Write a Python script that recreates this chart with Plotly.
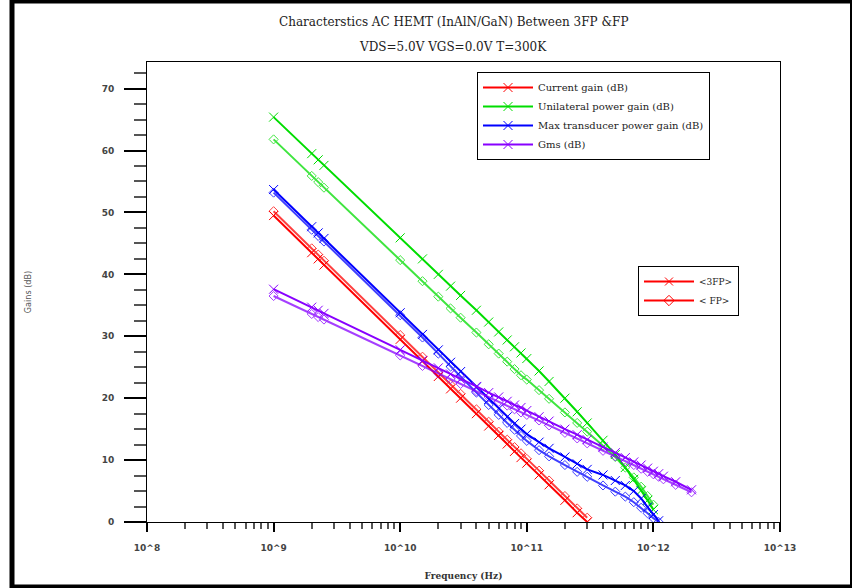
import plotly.graph_objects as go

# ---------------- data ----------------
FREQ = [1e9, 2e9, 2.25e9, 2.5e9, 1e10, 1.5e10, 2e10, 2.5e10, 3e10, 4e10,
        5e10, 6e10, 7e10, 8e10, 9e10, 1e11, 1.25e11, 1.5e11, 2e11, 2.5e11,
        3e11, 4e11, 5e11, 6e11, 7e11, 8e11, 9e11, 1e12, 1.1e12, 1.2e12,
        1.5e12, 2e12]

current_gain_3fp = [49.5, 43.5, 42.5, 41.5, 29.5, 26.0, 23.5, 21.5, 20.0, 17.5,
                    15.5, 14.0, 12.6, 11.4, 10.4, 9.5, 7.6, 6.0, 3.5, 1.5, 0.0]
current_gain_fp = [50.2, 44.2, 43.2, 42.2, 30.2, 26.7, 24.2, 22.2, 20.7, 18.2,
                   16.2, 14.6, 13.3, 12.1, 11.1, 10.2, 8.3, 6.7, 4.2, 2.2, 0.7]

unilateral_3fp = [65.4, 59.5, 58.5, 57.6, 45.9, 42.5, 40.0, 38.1, 36.6, 34.2,
                  32.3, 30.7, 29.4, 28.3, 27.3, 26.4, 24.4, 22.7, 20.0, 17.8,
                  16.0, 13.2, 10.9, 8.8, 6.9, 5.1, 3.5, 2.0]
unilateral_fp = [61.8, 55.9, 54.9, 54.0, 42.3, 38.9, 36.4, 34.5, 33.0, 30.6,
                 28.7, 27.2, 25.9, 24.7, 23.7, 23.0, 21.3, 19.9, 17.7, 16.0,
                 14.6, 12.3, 10.5, 8.8, 7.2, 5.7, 4.2, 2.8]

max_transducer_3fp = [53.7, 47.7, 46.7, 45.8, 33.8, 30.3, 27.8, 25.8, 24.3, 21.8,
                      19.8, 18.3, 17.0, 15.9, 15.0, 14.2, 12.9, 11.9, 10.5, 9.4,
                      8.5, 7.6, 6.7, 5.9, 5.0, 3.8, 2.4, 1.2, 0.2]
max_transducer_fp = [53.2, 47.2, 46.2, 45.3, 33.4, 29.8, 27.2, 25.1, 23.5, 20.9,
                     18.9, 17.3, 16.0, 14.9, 13.9, 13.1, 11.6, 10.6, 9.2, 8.1,
                     7.3, 5.9, 4.9, 4.1, 3.2, 2.3, 1.4, 0.6, 0.0]

gms_3fp = [37.6, 34.7, 34.2, 33.7, 27.8, 26.1, 24.9, 23.9, 23.1, 21.9,
           20.9, 20.2, 19.5, 18.9, 18.5, 18.0, 17.0, 16.3, 15.0, 14.1,
           13.3, 12.1, 11.2, 10.4, 9.7, 9.2, 8.7, 8.2, 7.8, 7.4, 6.5, 5.2]
gms_fp = [36.5, 33.6, 33.1, 32.7, 26.9, 25.2, 24.0, 23.1, 22.3, 21.1,
          20.2, 19.4, 18.8, 18.2, 17.7, 17.3, 16.4, 15.6, 14.4, 13.5,
          12.7, 11.5, 10.6, 9.8, 9.2, 8.6, 8.1, 7.7, 7.3, 6.9, 6.0, 4.8]

SERIES_NAMES = ["Current gain (dB)", "Unilateral power gain (dB)",
                "Max transducer power gain (dB)", "Gms (dB)"]
SERIES_COLORS = ["#ff0000", "#00dd00", "#0000ff", "#8800ff"]
VARIANT_NAMES = ["<3FP>", "< FP>"]

X_TICK_VALS = [1e8, 1e9, 1e10, 1e11, 1e12, 1e13]
X_TICK_TEXT = ["10^8", "10^9", "10^10", "10^11", "10^12", "10^13"]
X_MINOR_VALS = [m * 10 ** e for e in range(8, 13) for m in range(2, 10)]

# ---------------- figure ----------------
fig = go.Figure()

pairs = [(current_gain_3fp, current_gain_fp), (unilateral_3fp, unilateral_fp),
         (max_transducer_3fp, max_transducer_fp), (gms_3fp, gms_fp)]

for (v3, vf), name, col in zip(pairs, SERIES_NAMES, SERIES_COLORS):
    fig.add_trace(go.Scatter(
        x=FREQ[:len(vf)], y=vf, mode="lines+markers", name=name + " FP",
        line=dict(color=col, width=2),
        marker=dict(symbol="diamond-open", size=7, color=col, line=dict(width=1)),
        opacity=0.75, showlegend=False))
    fig.add_trace(go.Scatter(
        x=FREQ[:len(v3)], y=v3, mode="lines+markers", name=name,
        line=dict(color=col, width=2),
        marker=dict(symbol="x-thin", size=9, color=col, line=dict(width=1, color=col)),
        showlegend=False))

# legend entries (no data)
for name, col in zip(SERIES_NAMES, SERIES_COLORS):
    fig.add_trace(go.Scatter(
        x=[None], y=[None], mode="lines+markers", name=name, legend="legend",
        line=dict(color=col, width=2),
        marker=dict(symbol="x-thin", size=9, color=col, line=dict(width=1, color=col))))
for vname, sym in zip(VARIANT_NAMES, ["x-thin", "diamond-open"]):
    fig.add_trace(go.Scatter(
        x=[None], y=[None], mode="lines+markers", name=vname, legend="legend2",
        line=dict(color=SERIES_COLORS[0], width=2),
        marker=dict(symbol=sym, size=8, color=SERIES_COLORS[0],
                    line=dict(width=1, color=SERIES_COLORS[0]))))

# plot area: x 147..780 px, y 62..522 px
def px(xp):
    return (xp - 147) / 633.0

def py(yp):
    return (522 - yp) / 460.0

tick_font = dict(family="DejaVu Sans", size=9, color="#444", weight="bold")

fig.update_layout(
    width=852, height=588,
    margin=dict(l=147, r=72, t=62, b=66, autoexpand=False),
    paper_bgcolor="white", plot_bgcolor="white",
    showlegend=True,
    xaxis=dict(
        type="log", range=[8, 13], automargin=False,
        tickmode="array", tickvals=X_TICK_VALS, ticktext=X_TICK_TEXT,
        ticks="outside", ticklen=9, tickwidth=2, tickcolor="black",
        ticklabelstandoff=8,
        minor=dict(tickmode="array", tickvals=X_MINOR_VALS, ticks="outside",
                   ticklen=6, tickwidth=1.5, tickcolor="#555"),
        showline=True, linecolor="black", linewidth=1, mirror=True,
        showgrid=False, zeroline=False, tickfont=tick_font,
        title=dict(text="Frequency (Hz)", standoff=20,
                   font=dict(family="DejaVu Serif", size=9, color="#333", weight="bold")),
    ),
    yaxis=dict(
        range=[0, 74.3], tick0=0, dtick=10, automargin=False,
        ticks="outside", ticklen=22, tickwidth=2, tickcolor="black",
        ticklabelstandoff=8,
        minor=dict(dtick=2.5, tick0=0, ticks="outside", ticklen=12,
                   tickwidth=1.5, tickcolor="#555"),
        showline=True, linecolor="black", linewidth=1, mirror=True,
        showgrid=False, zeroline=False, tickfont=tick_font,
        title=dict(text="Gains (dB)", standoff=68,
                   font=dict(family="Liberation Sans Narrow, DejaVu Sans Condensed, sans-serif",
                             size=9, color="#555")),
    ),
    legend=dict(
        x=px(477), y=py(72), xanchor="left", yanchor="top",
        bordercolor="black", borderwidth=1, bgcolor="white",
        font=dict(family="DejaVu Serif", size=10, color="#222"),
        itemwidth=50, tracegroupgap=0,
        entrywidth=280, entrywidthmode="pixels",
    ),
    legend2=dict(
        x=px(638), y=py(266), xanchor="left", yanchor="top",
        bordercolor="black", borderwidth=1, bgcolor="white",
        font=dict(family="DejaVu Serif", size=9, color="#222"),
        itemwidth=50, tracegroupgap=0,
        entrywidth=120, entrywidthmode="pixels",
    ),
    annotations=[
        dict(text="Characterstics AC HEMT (InAlN/GaN) Between 3FP &FP",
             x=px(453), y=py(22), xref="paper", yref="paper", showarrow=False,
             xanchor="center", yanchor="middle",
             font=dict(family="DejaVu Serif", size=12, color="#222")),
        dict(text="VDS=5.0V VGS=0.0V T=300K",
             x=px(453), y=py(47), xref="paper", yref="paper", showarrow=False,
             xanchor="center", yanchor="middle",
             font=dict(family="DejaVu Serif", size=12, color="#222")),
    ],
    shapes=[
        dict(type="line", xref="paper", yref="paper", x0=px(12), x1=px(12),
             y0=py(0), y1=py(588), line=dict(color="black", width=5)),
        dict(type="line", xref="paper", yref="paper", x0=px(10), x1=px(852),
             y0=py(1.5), y1=py(1.5), line=dict(color="black", width=4)),
        dict(type="line", xref="paper", yref="paper", x0=px(10), x1=px(852),
             y0=py(586.5), y1=py(586.5), line=dict(color="black", width=4)),
        dict(type="line", xref="paper", yref="paper", x0=px(851), x1=px(851),
             y0=py(0), y1=py(588), line=dict(color="black", width=2)),
    ],
)

fig.write_html("out.html", config={"displayModeBar": False},
               post_script="document.body.style.margin='0';document.body.style.overflow='hidden';")
